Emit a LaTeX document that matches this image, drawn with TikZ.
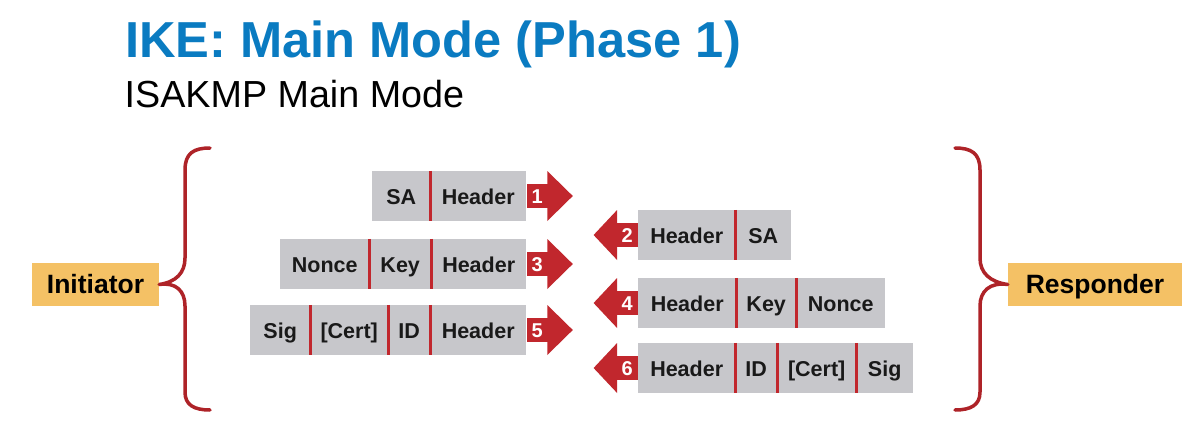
\documentclass[tikz,border=0pt]{standalone}
\usepackage{fontspec}
\setmainfont{Liberation Sans}
\usetikzlibrary{calc}
\definecolor{ttlblue}{HTML}{0A7BC1}
\definecolor{cellgray}{HTML}{C7C7CB}
\definecolor{ikered}{HTML}{C1272D}
\definecolor{roleorange}{HTML}{F4C165}
\tikzset{
  cell/.style={fill=cellgray, inner sep=0pt, minimum height=50pt, anchor=west,
    text height=16pt, text depth=0pt,
    font=\fontsize{21.5}{24}\selectfont\bfseries, text=black!90},
  sep/.style={draw=ikered, line width=3.8pt},
  numbox/.style={fill=ikered, inner sep=0pt, minimum width=21pt, minimum height=24pt,
    text height=14pt, text depth=0pt,
    text=white, font=\fontsize{20}{22}\selectfont\bfseries},
  role/.style={fill=roleorange, inner sep=0pt, minimum height=43pt,
    text height=20pt, text depth=3pt,
    font=\fontsize{26.5}{30}\selectfont\bfseries, text=black},
  brace/.style={draw=ikered!90!black, line width=3.5pt, line cap=round, line join=round},
}
\begin{document}
\begin{tikzpicture}[x=1pt,y=-1pt]
\useasboundingbox (0,0) rectangle (1203,431);
\fill[white] (0,0) rectangle (1203,431);

% titles
\node[anchor=base west, inner sep=0pt, text=ttlblue, font=\fontsize{50.6}{56}\selectfont\bfseries] (title) at (125,57) {IKE: Main Mode (Phase 1)};
\node[anchor=base west, inner sep=0pt, font=\fontsize{37.7}{42}\selectfont] (subtitle) at (124.5,107) {ISAKMP Main Mode};

% roles
\node[role, minimum width=127pt] (init) at (95.5,284.5) {Initiator};
\node[role, minimum width=174pt] (resp) at (1095,284.5) {Responder};

% braces
\draw[brace] (210,148) .. controls (194,148) and (185,153) .. (185,170)
  -- (185,258) .. controls (185,273) and (176,282) .. (init.east)
  .. controls (176,282) and (185,291) .. (185,306)
  -- (185,392) .. controls (185,405) and (194,410) .. (210,410);
\draw[brace] (955,148) .. controls (971,148) and (980,153) .. (980,170)
  -- (980,258) .. controls (980,273) and (990,282) .. (resp.west)
  .. controls (990,282) and (980,291) .. (980,306)
  -- (980,392) .. controls (980,405) and (971,410) .. (955,410);

% row 1
\node[cell, minimum width=58pt] (a1) at (372,196) {SA};
\node[cell, minimum width=96pt] (a2) at (430,196) {Header};
\draw[sep] (a1.north east) -- (a1.south east);
\node[numbox, anchor=west] (n1) at (a2.east) {1};
\fill[ikered] ([xshift=-0.5pt,yshift=25pt]n1.east) -- ([xshift=25pt]n1.east) -- ([xshift=-0.5pt,yshift=-25pt]n1.east) -- cycle;

% row 2
\node[cell, minimum width=97pt] (b1) at (638,235) {Header};
\node[cell, minimum width=56pt] (b2) at (735,235) {SA};
\draw[sep] (b1.north east) -- (b1.south east);
\node[numbox, anchor=east] (n2) at (b1.west) {2};
\fill[ikered] ([xshift=0.5pt,yshift=25pt]n2.west) -- ([xshift=-23pt]n2.west) -- ([xshift=0.5pt,yshift=-25pt]n2.west) -- cycle;

% row 3
\node[cell, minimum width=89pt] (c1) at (280,264) {Nonce};
\node[cell, minimum width=62pt] (c2) at (369,264) {Key};
\node[cell, minimum width=95pt] (c3) at (431,264) {Header};
\draw[sep] (c1.north east) -- (c1.south east);
\draw[sep] (c2.north east) -- (c2.south east);
\node[numbox, anchor=west] (n3) at (c3.east) {3};
\fill[ikered] ([xshift=-0.5pt,yshift=25pt]n3.east) -- ([xshift=25pt]n3.east) -- ([xshift=-0.5pt,yshift=-25pt]n3.east) -- cycle;

% row 4
\node[cell, minimum width=98pt] (d1) at (638,303) {Header};
\node[cell, minimum width=60pt] (d2) at (736,303) {Key};
\node[cell, minimum width=89pt] (d3) at (796,303) {Nonce};
\draw[sep] (d1.north east) -- (d1.south east);
\draw[sep] (d2.north east) -- (d2.south east);
\node[numbox, anchor=east] (n4) at (d1.west) {4};
\fill[ikered] ([xshift=0.5pt,yshift=25pt]n4.west) -- ([xshift=-23pt]n4.west) -- ([xshift=0.5pt,yshift=-25pt]n4.west) -- cycle;

% row 5
\node[cell, minimum width=60pt] (e1) at (250,330) {Sig};
\node[cell, minimum width=78pt] (e2) at (310,330) {[Cert]};
\node[cell, minimum width=42pt] (e3) at (388,330) {ID};
\node[cell, minimum width=96pt] (e4) at (430,330) {Header};
\draw[sep] (e1.north east) -- (e1.south east);
\draw[sep] (e2.north east) -- (e2.south east);
\draw[sep] (e3.north east) -- (e3.south east);
\node[numbox, anchor=west] (n5) at (e4.east) {5};
\fill[ikered] ([xshift=-0.5pt,yshift=25pt]n5.east) -- ([xshift=25pt]n5.east) -- ([xshift=-0.5pt,yshift=-25pt]n5.east) -- cycle;

% row 6
\node[cell, minimum width=97pt] (f1) at (638,368) {Header};
\node[cell, minimum width=42pt] (f2) at (735,368) {ID};
\node[cell, minimum width=79pt] (f3) at (777,368) {[Cert]};
\node[cell, minimum width=57pt] (f4) at (856,368) {Sig};
\draw[sep] (f1.north east) -- (f1.south east);
\draw[sep] (f2.north east) -- (f2.south east);
\draw[sep] (f3.north east) -- (f3.south east);
\node[numbox, anchor=east] (n6) at (f1.west) {6};
\fill[ikered] ([xshift=0.5pt,yshift=25pt]n6.west) -- ([xshift=-23pt]n6.west) -- ([xshift=0.5pt,yshift=-25pt]n6.west) -- cycle;
\end{tikzpicture}
\end{document}
